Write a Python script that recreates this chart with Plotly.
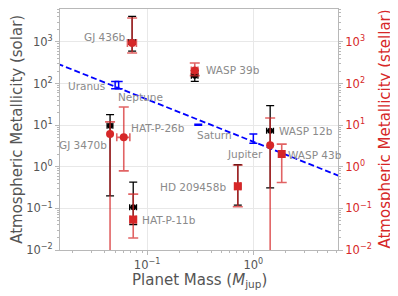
import numpy as np
import plotly.graph_objects as go

# ---------------- data ----------------
# Solar-scaled metallicities (black)
sol_names = ["GJ 436b", "GJ 3470b", "HAT-P-11b", "WASP 39b", "HD 209458b", "WASP 12b"]
sol_mass = [0.0723, 0.0448, 0.074, 0.281, 0.714, 1.44]
sol_mass_err = [0.005, 0.0028, 0.0055, 0.02, 0.045, 0.107]
sol_z = [1000, 9.7, 0.106, 155, 0.34, 7.4]
sol_hi = [4120, 17.9, 0.43, 205, 1.12, 29.4]
sol_lo = [600, 0.2, 0.041, 113, 0.12, 0.31]

# Stellar-scaled metallicities (red)
st_names = ["GJ 436b", "GJ 3470b", "HAT-P-26b", "HAT-P-11b", "WASP 39b", "HD 209458b", "WASP 12b", "WASP 43b"]
st_mass = [0.0723, 0.0448, 0.0603, 0.074, 0.281, 0.714, 1.44, 1.85]
st_mass_err = [0.007, 0.0, 0.0085, 0.005, 0.02, 0.045, 0.0, 0.0]
st_z = [950, 6.1, 5.1, 0.054, 207, 0.34, 3.3, 2.03]
st_hi = [3780, 12, 27.4, 0.22, 313, 1.1, 14.9, 3.5]
st_lo = [544, 1e-4, 0.8, 0.0195, 155, 0.11, 1e-4, 0.42]
st_symbol = ["circle", "circle", "circle", "square", "circle", "square", "circle", "square"]

# Solar system planets (blue)
ss_names = ["Uranus", "Neptune", "Saturn", "Jupiter"]
ss_mass = [0.050, 0.054, 0.303, 1.0]
ss_z = [92, 92, 10.3, 4.7]
ss_hi = [113, 113, 10.6, 6.1]
ss_lo = [75, 75, 10.0, 3.7]

# Mass-metallicity trend line (endpoints)
trend_mass = [0.01, 10.0]
trend_z = [434, 0.385]

# tick labels
y_tickvals = [1e-2, 1e-1, 1e0, 1e1, 1e2, 1e3]
y_ticktext = ["10<sup>−2</sup>", "10<sup>−1</sup>", "10<sup>0</sup>",
              "10<sup>1</sup>", "10<sup>2</sup>", "10<sup>3</sup>"]
x_tickvals = [0.1, 1.0]
x_ticktext = ["10<sup>−1</sup>", "10<sup>0</sup>"]

# ---------------- styling ----------------
FONT = "DejaVu Sans"
RED = "#d62728"
RED_ERR = "rgba(214,39,40,0.72)"
GREY_TXT = "#555555"
LABEL_GREY = "#8a8a8a"
SPINE = "#b8b8b8"
GRID = "#e8e8e8"

def arr(a):
    return np.asarray(a, dtype=float)

fig = go.Figure()

# trend line
fig.add_trace(go.Scatter(
    x=trend_mass, y=trend_z, mode="lines",
    line=dict(color="#0000ff", width=1.8, dash="6px,3px"),
    hoverinfo="skip", showlegend=False))

# solar system planets
fig.add_trace(go.Scatter(
    x=ss_mass, y=ss_z, mode="markers",
    marker=dict(size=1, color="rgba(0,0,0,0)"),
    error_y=dict(type="data", symmetric=False,
                 array=arr(ss_hi) - arr(ss_z), arrayminus=arr(ss_z) - arr(ss_lo),
                 color="#0000ff", thickness=1.5, width=4),
    showlegend=False))

# black (solar)
fig.add_trace(go.Scatter(
    x=sol_mass, y=sol_z, mode="markers",
    marker=dict(size=6, color="black"),
    error_y=dict(type="data", symmetric=False,
                 array=arr(sol_hi) - arr(sol_z), arrayminus=arr(sol_z) - arr(sol_lo),
                 color="black", thickness=1.3, width=4),
    error_x=dict(type="data", array=sol_mass_err, color="black", thickness=1.3, width=3),
    showlegend=False))

# red (stellar)
fig.add_trace(go.Scatter(
    x=st_mass, y=st_z, mode="markers",
    marker=dict(size=8, color=RED, symbol=st_symbol),
    error_y=dict(type="data", symmetric=False,
                 array=arr(st_hi) - arr(st_z), arrayminus=arr(st_z) - arr(st_lo),
                 color=RED_ERR, thickness=1.6, width=5),
    error_x=dict(type="data", array=st_mass_err, color=RED_ERR, thickness=1.6, width=4),
    showlegend=False))

# ---------------- labels ----------------
# name -> (xanchor, xshift px, yshift px) relative to the planet's point
label_pos = {
    "GJ 436b": ("right", -4.5, 4.6),
    "GJ 3470b": ("right", -1.5, -19),
    "HAT-P-26b": ("left", 5, 9.4),
    "HAT-P-11b": ("left", 7, 0),
    "WASP 39b": ("left", 9.5, 0),
    "HD 209458b": ("right", -9.4, -1),
    "WASP 12b": ("left", 7.3, 0),
    "WASP 43b": ("left", 4.5, -0.7),
    "Uranus": ("right", -8.6, -0.5),
    "Neptune": ("left", -2.2, -11.7),
    "Saturn": ("left", -3, -10.7),
    "Jupiter": ("right", 11.7, -14.8),
}
points = {}
for n, m, z in zip(sol_names, sol_mass, sol_z):
    points[n] = (m, z)
for n, m, z in zip(st_names, st_mass, st_z):
    if n not in points or n in ("HAT-P-11b", "WASP 39b", "HD 209458b"):
        points[n] = (m, z)
for n, m, z in zip(ss_names, ss_mass, ss_z):
    points[n] = (m, z)

for name, (xa, dx, dy) in label_pos.items():
    m, z = points[name]
    fig.add_annotation(
        x=np.log10(m), y=np.log10(z), xref="x", yref="y",
        text=name, showarrow=False, xanchor=xa, yanchor="middle",
        xshift=dx, yshift=dy,
        font=dict(family=FONT, size=10.5, color=LABEL_GREY))

# axis titles as annotations
fig.add_annotation(x=-0.157, y=0.5, xref="paper", yref="paper",
                   text="Atmospheric Metallicity (solar)", textangle=-90,
                   showarrow=False, xanchor="center", yanchor="middle",
                   font=dict(family=FONT, size=15, color=GREY_TXT))
fig.add_annotation(x=1.1655, y=0.5, xref="paper", yref="paper",
                   text="Atmospheric Metallicity (stellar)", textangle=-90,
                   showarrow=False, xanchor="center", yanchor="middle",
                   font=dict(family=FONT, size=15, color=RED))
fig.add_annotation(x=0.5, y=-0.1245, xref="paper", yref="paper",
                   text="Planet Mass (<i>M</i><sub>jup</sub>)",
                   showarrow=False, xanchor="center", yanchor="middle",
                   font=dict(family=FONT, size=15, color=GREY_TXT))

x_minor = [v * d for d in (0.01, 0.1, 1.0) for v in range(2, 10)]
y_minor = [v * d for d in (0.01, 0.1, 1, 10, 100, 1000) for v in range(2, 10)]

yrange = [-2, 3.793]
# page has an 8px body margin: figure is 390x288 placed at (8, 8)
fig.update_layout(
    width=390, height=288,
    margin=dict(l=52, r=60, t=1, b=46, autoexpand=False),
    paper_bgcolor="white", plot_bgcolor="white",
    font=dict(family=FONT, color=GREY_TXT),
    xaxis=dict(type="log", range=[-1.82, 0.797],
               tickvals=x_tickvals, ticktext=x_ticktext,
               ticks="outside", ticklen=4, tickcolor=SPINE, tickwidth=1,
               tickfont=dict(family=FONT, size=11.5, color=GREY_TXT),
               showgrid=True, gridcolor=GRID, gridwidth=1,
               showline=True, linecolor=SPINE, linewidth=1, mirror=True,
               zeroline=False, automargin=False,
               minor=dict(tickvals=x_minor, ticks="outside", ticklen=2,
                          tickcolor=SPINE, showgrid=False)),
    yaxis=dict(type="log", range=yrange,
               tickvals=y_tickvals, ticktext=y_ticktext,
               ticks="outside", ticklen=4, tickcolor=SPINE, tickwidth=1,
               tickfont=dict(family=FONT, size=11.5, color=GREY_TXT),
               showgrid=True, gridcolor=GRID, gridwidth=1,
               showline=True, linecolor=SPINE, linewidth=1, mirror=True,
               zeroline=False, automargin=False,
               minor=dict(tickvals=y_minor, ticks="outside", ticklen=2,
                          tickcolor=SPINE, showgrid=False)),
    yaxis2=dict(type="log", range=yrange, overlaying="y", side="right",
                tickvals=y_tickvals, ticktext=y_ticktext,
                ticks="outside", ticklen=4, tickcolor=SPINE, tickwidth=1,
                tickfont=dict(family=FONT, size=11.5, color=RED),
                showgrid=False, showline=False, zeroline=False, automargin=False,
                minor=dict(tickvals=y_minor, ticks="outside", ticklen=2,
                           tickcolor=SPINE, showgrid=False)),
)

# dummy trace to activate yaxis2
fig.add_trace(go.Scatter(x=[0.1], y=[1], yaxis="y2", mode="markers",
                         marker=dict(size=1, color="rgba(0,0,0,0)"),
                         hoverinfo="skip", showlegend=False))

fig.write_html("out.html")
